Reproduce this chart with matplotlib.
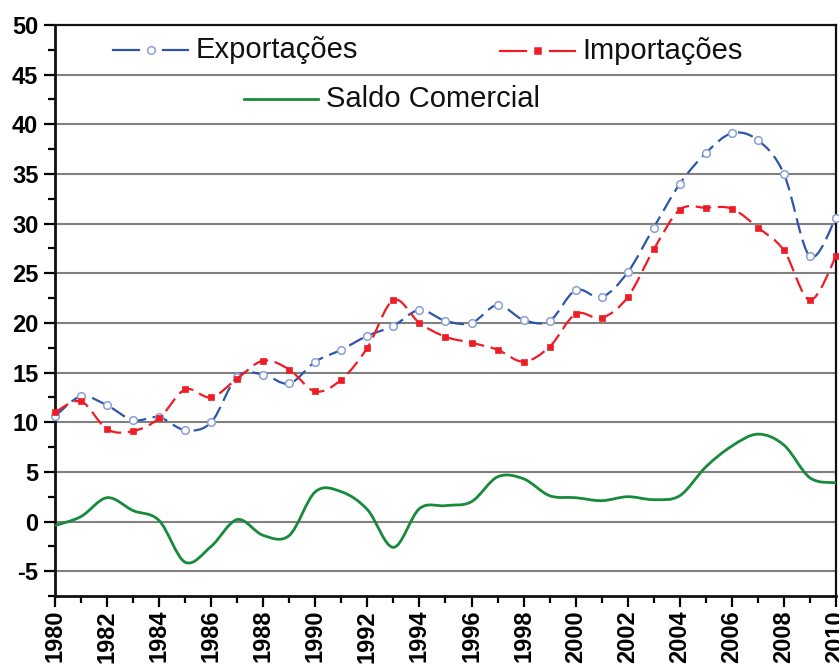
import numpy as np
import matplotlib
matplotlib.use("Agg")
import matplotlib.pyplot as plt
from matplotlib.path import Path
from matplotlib.patches import PathPatch
from matplotlib.lines import Line2D
from matplotlib.ticker import MultipleLocator

plt.rcParams['font.family'] = ['Liberation Sans', 'DejaVu Sans']
plt.rcParams['axes.unicode_minus'] = False

years = list(range(1980, 2011))
exportacoes = [10.6, 12.6, 11.7, 10.2, 10.5, 9.2, 10.0, 14.6, 14.8, 13.9,
               16.1, 17.3, 18.7, 19.7, 21.3, 20.2, 20.0, 21.8, 20.3, 20.2,
               23.3, 22.6, 25.1, 29.6, 34.0, 37.1, 39.1, 38.4, 35.0, 26.7, 30.6]
importacoes = [11.0, 12.1, 9.3, 9.1, 10.4, 13.3, 12.5, 14.4, 16.2, 15.3,
               13.1, 14.3, 17.5, 22.3, 20.0, 18.6, 18.0, 17.3, 16.1, 17.6,
               20.9, 20.5, 22.6, 27.4, 31.4, 31.6, 31.5, 29.6, 27.3, 22.3, 26.7]
saldo = [-0.4, 0.5, 2.4, 1.1, 0.1, -4.1, -2.5, 0.2, -1.4, -1.4,
         3.0, 3.0, 1.2, -2.6, 1.3, 1.6, 2.0, 4.5, 4.3, 2.6,
         2.4, 2.1, 2.5, 2.2, 2.6, 5.5, 7.6, 8.8, 7.7, 4.4, 3.9]
y_ticks = [-5, 0, 5, 10, 15, 20, 25, 30, 35, 40, 45, 50]
x_labels = list(range(1980, 2011, 2))

BLUE = '#2f55a8'
BLUE_MK = '#8a9fd6'
RED = '#ee1c25'
GREEN = '#178a3c'


def smooth_path(xs, ys):
    pts = np.column_stack([xs, ys]).astype(float)
    n = len(pts)
    verts = [pts[0]]
    codes = [Path.MOVETO]
    for i in range(n - 1):
        p0 = pts[i - 1] if i > 0 else pts[i]
        p1 = pts[i]
        p2 = pts[i + 1]
        p3 = pts[i + 2] if i + 2 < n else pts[i + 1]
        c1 = p1 + (p2 - p0) / 6.0
        c2 = p2 - (p3 - p1) / 6.0
        verts += [c1, c2, p2]
        codes += [Path.CURVE4] * 3
    return Path(verts, codes)


fig = plt.figure(figsize=(8.39, 6.66), dpi=100)
ax = fig.add_axes([55 / 839, 70 / 666, 781 / 839, 571 / 666])

ax.set_xlim(1980, 2010)
ax.set_ylim(-7.5, 50)

for yv in y_ticks[:-1]:
    ax.axhline(yv, color='#808080', lw=1.5, zorder=1)

ax.add_patch(PathPatch(smooth_path(years, saldo), fill=False, edgecolor=GREEN,
                       lw=2.0, zorder=3))
ax.add_patch(PathPatch(smooth_path(years, exportacoes), fill=False, edgecolor=BLUE,
                       lw=1.6, linestyle=(0, (7, 3)), zorder=3))
ax.plot(years, exportacoes, linestyle='none', marker='o', ms=5.5, mfc='white',
        mec=BLUE_MK, mew=1.1, zorder=4, clip_on=False)
ax.add_patch(PathPatch(smooth_path(years, importacoes), fill=False, edgecolor=RED,
                       lw=1.6, linestyle=(0, (7, 3)), zorder=5))
ax.plot(years, importacoes, linestyle='none', marker='s', ms=4.8, mfc=RED,
        mec=RED, mew=0.5, zorder=6, clip_on=False)

ax.set_yticks(y_ticks)
ax.yaxis.set_minor_locator(MultipleLocator(2.5))
ax.set_xticks(x_labels)
ax.set_xticklabels([str(v) for v in x_labels], rotation=90)
ax.xaxis.set_minor_locator(MultipleLocator(1))

ax.tick_params(axis='both', which='major', direction='out', length=8, width=1.6,
               labelsize=17)
ax.tick_params(axis='y', which='major', pad=4)
ax.tick_params(axis='x', which='major', pad=2)
ax.tick_params(axis='both', which='minor', direction='out', length=5, width=1.6)
for lab in ax.get_xticklabels() + ax.get_yticklabels():
    lab.set_fontweight('bold')

ax.spines['left'].set_linewidth(2.0)
ax.spines['bottom'].set_linewidth(2.0)
ax.spines['top'].set_linewidth(1.6)
ax.spines['right'].set_linewidth(1.6)
for s in ax.spines.values():
    s.set_color('#111111')


def fx(px):
    return px / 839


def fy(py):
    return 1 - py / 666


def legend_item(x0, x1, y, color, marker, mfc, mec, text, tx):
    if marker is None:
        fig.add_artist(Line2D([fx(x0), fx(x1)], [fy(y), fy(y)], color=color, lw=2.0,
                              transform=fig.transFigure))
    else:
        mid = (x0 + x1) / 2
        fig.add_artist(Line2D([fx(x0), fx(mid - 12)], [fy(y), fy(y)], color=color, lw=1.6,
                              transform=fig.transFigure))
        fig.add_artist(Line2D([fx(mid + 12), fx(x1)], [fy(y), fy(y)], color=color, lw=1.6,
                              transform=fig.transFigure))
        fig.add_artist(Line2D([fx(mid)], [fy(y)], linestyle='none', marker=marker,
                              ms=5.5 if marker == 'o' else 4.8, mfc=mfc, mec=mec, mew=1.1,
                              transform=fig.transFigure))
    fig.text(fx(tx), fy(y), text, fontsize=21, va='center', ha='left', color='#111111')


legend_item(113, 188, 50, BLUE, 'o', 'white', BLUE_MK, 'Exportações', 196)
legend_item(500, 575, 51, RED, 's', RED, RED, 'Importações', 582)
legend_item(244, 318, 99, GREEN, None, None, None, 'Saldo Comercial', 326)

fig.savefig('out.png', dpi=100)
